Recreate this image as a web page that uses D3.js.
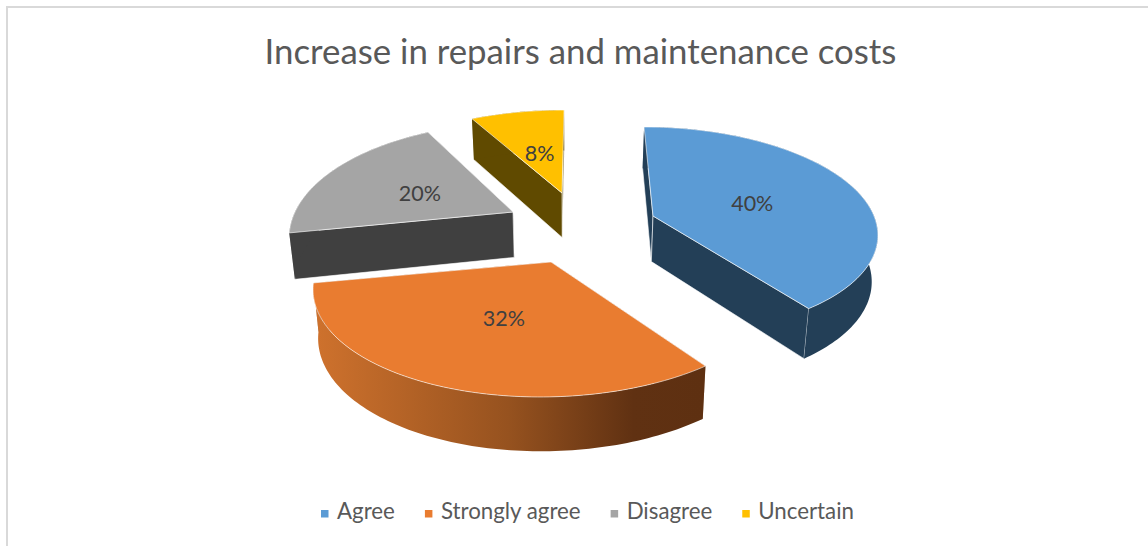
<!DOCTYPE html>
<html><head><meta charset="utf-8">
<script src="https://cdn.jsdelivr.net/npm/d3@7"></script>
<style>html,body{margin:0;padding:0;background:#fff;overflow:hidden}svg{display:block}text{font-family:Lato,"Open Sans",sans-serif}</style>
</head><body><svg id="c" width="1148" height="546"></svg>
<script>
const titleText = "Increase in repairs and maintenance costs";
const categories = ["Agree", "Strongly agree", "Disagree", "Uncertain"];
const shares = [40, 32, 20, 8];
const topColors = ["#5b9bd5", "#e97c30", "#a5a5a5", "#ffc000"];
const wallColors = ["#233f57", "#5e3011", "#404040", "#604a00"];

// per-slice placement of the exploded 3D pie
const apexX = [653, 551, 513, 562];
const apexY = [216, 262, 212, 193];
const radiusX = [221, 231, 218, 225];
const radiusY = [101.5, 107.3, 107.3, 100];
const persp = [0.14, 0.205, 0.205, 0.205];
const shear = [0.1, -0.08, -0.05, -0.025];
const labelDx = [4, 8, -7, -1];
const labelDy = [2, -2, 2, 0];
const vanishX = 570, labelFrac = 0.48;

const svg = d3.select("#c");
const defs = svg.append("defs");
const grad = defs.append("linearGradient").attr("id", "rim1").attr("gradientUnits", "userSpaceOnUse")
  .attr("x1", 313).attr("x2", 704).attr("y1", 0).attr("y2", 0);
[[0, "#cf722d"], [0.5, "#96521f"], [0.82, "#603112"], [1, "#5e3011"]].forEach(s =>
  grad.append("stop").attr("offset", s[0]).attr("stop-color", s[1]));

// frame
svg.append("path").attr("d", "M7,546V7H1148").attr("fill", "none").attr("stroke", "#d9d9d9").attr("stroke-width", 2);

svg.append("text").attr("x", 580.5).attr("y", 64).attr("text-anchor", "middle")
  .attr("font-size", 34.8).attr("fill", "#595959").text(titleText);

const pie = d3.pie().sort(null).value(d => d);
const arcs = pie(shares);

function project(i, a) {
  const s = 1 / (1 + persp[i] * Math.cos(a));
  const dy = -radiusY[i] * Math.cos(a) * s;
  const dx = radiusX[i] * Math.sin(a) * s + shear[i] * dy;
  return [apexX[i] + dx, apexY[i] + dy];
}
function below(p) {
  return [vanishX + (p[0] - vanishX) * 0.98, p[1] + 41 + 0.048 * (p[1] - 120)];
}
const line = d3.line();
const closed = pts => line(pts) + "Z";
const white = "rgba(255,255,255,0.75)";

arcs.forEach((d, i) => {
  const n = Math.ceil((d.endAngle - d.startAngle) / 0.02);
  const outer = d3.range(n + 1).map(k => project(i, d.startAngle + (d.endAngle - d.startAngle) * k / n));
  const apex = [apexX[i], apexY[i]];
  const g = svg.append("g").attr("class", "slice");
  const first = outer[0], last = outer[n];
  // the wall whose outer corner is higher on the page is behind the other one
  const walls = first[1] < last[1] ? [[first, apex], [apex, last]] : [[apex, last], [first, apex]];
  walls.forEach(e => {
    g.append("path").attr("d", closed([e[0], e[1], below(e[1]), below(e[0])]))
      .attr("fill", wallColors[i]).attr("stroke", white).attr("stroke-width", 0.8);
  });
  // outer rim
  g.append("path").attr("d", closed(outer.concat(outer.slice().reverse().map(below))))
    .attr("fill", i === 1 ? "url(#rim1)" : wallColors[i]);
  // top surface
  g.append("path").attr("d", closed([apex].concat(outer)))
    .attr("fill", topColors[i]).attr("stroke", white).attr("stroke-width", 0.8).attr("stroke-linejoin", "round");
});

arcs.forEach((d, i) => {
  const p = project(i, (d.startAngle + d.endAngle) / 2);
  svg.append("text")
    .attr("x", apexX[i] + (p[0] - apexX[i]) * labelFrac + labelDx[i])
    .attr("y", apexY[i] + (p[1] - apexY[i]) * labelFrac + 7 + labelDy[i])
    .attr("text-anchor", "middle").attr("font-size", 21.5).attr("fill", "#404040")
    .text(shares[i] + "%");
});

// legend
const leg = svg.append("g");
let lx = 321;
categories.forEach((c, i) => {
  leg.append("rect").attr("x", lx).attr("y", 510).attr("width", 7.5).attr("height", 7.5).attr("fill", topColors[i]);
  const t = leg.append("text").attr("x", lx + 16).attr("y", 519).attr("font-size", 22.3).attr("fill", "#595959").text(c);
  lx += 16 + t.node().getComputedTextLength() + 30;
});
</script></body></html>
